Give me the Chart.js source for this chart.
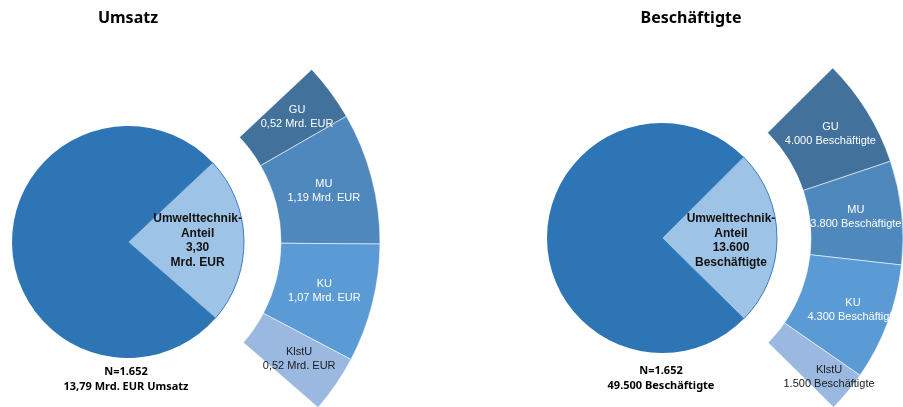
<!DOCTYPE html>
<html lang="de">
<head>
<meta charset="utf-8">
<title>Umwelttechnik-Anteil: Umsatz und Beschäftigte</title>
<script src="https://cdn.jsdelivr.net/npm/chart.js@4.4.1/dist/chart.umd.min.js"></script>
<style>
  html, body { margin: 0; padding: 0; background: #fff; }
  #wrap { position: relative; width: 903px; height: 407px; overflow: hidden; }
  .panel { position: absolute; top: 0; height: 407px; }
  #left { left: 0; width: 451px; }
  #right { left: 451px; width: 452px; }
</style>
</head>
<body>
<div id="wrap">
  <div class="panel" id="left"><canvas id="umsatzChart" width="451" height="407"></canvas></div>
  <div class="panel" id="right"><canvas id="beschChart" width="452" height="407"></canvas></div>
</div>
<script>
// size classes of the firms
const classes = ['GU', 'MU', 'KU', 'KlstU'];
const firms = 1652;

// Umsatz in Mrd. EUR
const umsatzClasses = [0.52, 1.19, 1.07, 0.52];
const umsatzUmwelt = 3.30;
const umsatzTotal = 13.79;
const umsatzRest = 10.8;     // rest of the pie, as it is drawn

// Beschäftigte
const beschClasses = [4000, 3800, 4300, 1500];
const beschUmwelt = 13600;
const beschTotal = 49500;
const beschRest = 41100;     // rest of the pie, as it is drawn

// colours
const darkBlue = '#2e75b6';
const lightBlue = '#9dc3e6';
const classColors = ['#42719c', '#4f88bc', '#5b9bd5', '#9bb9e0'];
const classTextColors = ['#ffffff', '#ffffff', '#ffffff', '#1a1a1a'];

const fmtDec = v => v.toFixed(2).replace('.', ',');
const fmtInt = v => String(v).replace(/\B(?=(\d{3})+(?!\d))/g, '.');

// draws the titles, the ring labels, the label of the light slice and the footer
function makeLabels(cfg) {
  return {
    id: 'pieOfPieLabels',
    afterDatasetsDraw(chart) {
      const ctx = chart.ctx;
      ctx.save();
      ctx.textAlign = 'center';
      ctx.textBaseline = 'middle';

      // labels of the outer ring
      const ring = chart.getDatasetMeta(0);
      ctx.font = '11px "Liberation Sans", Arial, sans-serif';
      classes.forEach((name, i) => {
        const arc = ring.data[i];
        const a = (arc.startAngle + arc.endAngle) / 2;
        const r = (arc.innerRadius + arc.outerRadius) / 2 + cfg.ringNudge[i];
        const x = arc.x + Math.cos(a) * r;
        const y = arc.y + Math.sin(a) * r;
        ctx.fillStyle = classTextColors[i];
        ctx.fillText(name, x, y - 7);
        ctx.fillText(cfg.ringText[i], x, y + 7);
      });

      // label inside the light slice
      const pie = chart.getDatasetMeta(2);
      const s = pie.data[0];
      const a = (s.startAngle + s.endAngle) / 2;
      const cx = s.x + Math.cos(a) * s.outerRadius * 0.6;
      const cy = s.y + Math.sin(a) * s.outerRadius * 0.6 + cfg.centerShift;
      ctx.font = 'bold 12px "Liberation Sans", Arial, sans-serif';
      ctx.fillStyle = '#111';
      cfg.centerText.forEach((t, i) => {
        ctx.fillText(t, cx, cy + (i - 1.5) * 14.5);
      });

      // title
      ctx.font = 'bold 16px "Noto Sans", sans-serif';
      ctx.fillStyle = '#000';
      ctx.fillText(cfg.title, cfg.titleX, 18);

      // footer
      ctx.font = 'bold 11px "Noto Sans", sans-serif';
      cfg.footer.forEach((t, i) => {
        ctx.fillText(t, cfg.footerX, cfg.footerY + i * 15);
      });
      ctx.restore();
    }
  };
}

function pieOfPie(canvasId, cfg) {
  const ringData = cfg.classValues.concat([cfg.rest]);
  return new Chart(document.getElementById(canvasId), {
    type: 'doughnut',
    data: {
      labels: classes.concat(['Rest']),
      datasets: [
        {
          // outer ring: split of the environmental share
          data: ringData,
          backgroundColor: classColors.concat(['rgba(0,0,0,0)']),
          borderColor: 'rgba(255,255,255,0.55)',
          borderWidth: [1, 1, 1, 1, 0],
          weight: cfg.ringWidth,
          clip: false
        },
        {
          // empty gap between pie and ring
          data: [1],
          backgroundColor: ['rgba(0,0,0,0)'],
          borderWidth: 0,
          weight: cfg.gap,
          clip: false
        },
        {
          data: [cfg.share, cfg.rest],
          backgroundColor: [lightBlue, darkBlue],
          borderColor: ['#3d7cbc', darkBlue],
          borderWidth: [1, 0],
          weight: cfg.pieRadius,
          clip: false
        }
      ]
    },
    options: {
      responsive: false,
      animation: false,
      events: [],
      cutout: 0,
      radius: cfg.pieRadius + cfg.gap + cfg.ringWidth,
      rotation: cfg.rotation,
      layout: { padding: cfg.padding },
      plugins: {
        legend: { display: false },
        tooltip: { enabled: false },
        title: { display: false }
      }
    },
    plugins: [makeLabels(cfg)]
  });
}

pieOfPie('umsatzChart', {
  classValues: umsatzClasses,
  share: umsatzUmwelt,
  rest: umsatzRest,
  pieRadius: 116,
  gap: 37,
  ringWidth: 99,
  rotation: 46.8,
  padding: { left: 0, right: 195, top: 77, bottom: 0 },
  ringText: umsatzClasses.map(v => fmtDec(v) + ' Mrd. EUR'),
  ringNudge: [8, 0, 0, 5],
  centerText: ['Umwelttechnik-', 'Anteil', fmtDec(umsatzUmwelt), 'Mrd. EUR'],
  centerShift: 0,
  title: 'Umsatz',
  titleX: 128,
  footer: ['N=' + fmtInt(firms), fmtDec(umsatzTotal) + ' Mrd. EUR Umsatz'],
  footerX: 126,
  footerY: 372
});

pieOfPie('beschChart', {
  classValues: beschClasses,
  share: beschUmwelt,
  rest: beschRest,
  pieRadius: 115,
  gap: 34,
  ringWidth: 92,
  rotation: 45.1,
  padding: { left: 0, right: 30, top: 69, bottom: 0 },
  ringText: beschClasses.map(v => fmtInt(v) + ' Beschäftigte'),
  ringNudge: [3, 0, 9, 22],
  centerText: ['Umwelttechnik-', 'Anteil', fmtInt(beschUmwelt), 'Beschäftigte'],
  centerShift: 3,
  title: 'Beschäftigte',
  titleX: 240,
  footer: ['N=' + fmtInt(firms), fmtInt(beschTotal) + ' Beschäftigte'],
  footerX: 210,
  footerY: 371
});
</script>
</body>
</html>
